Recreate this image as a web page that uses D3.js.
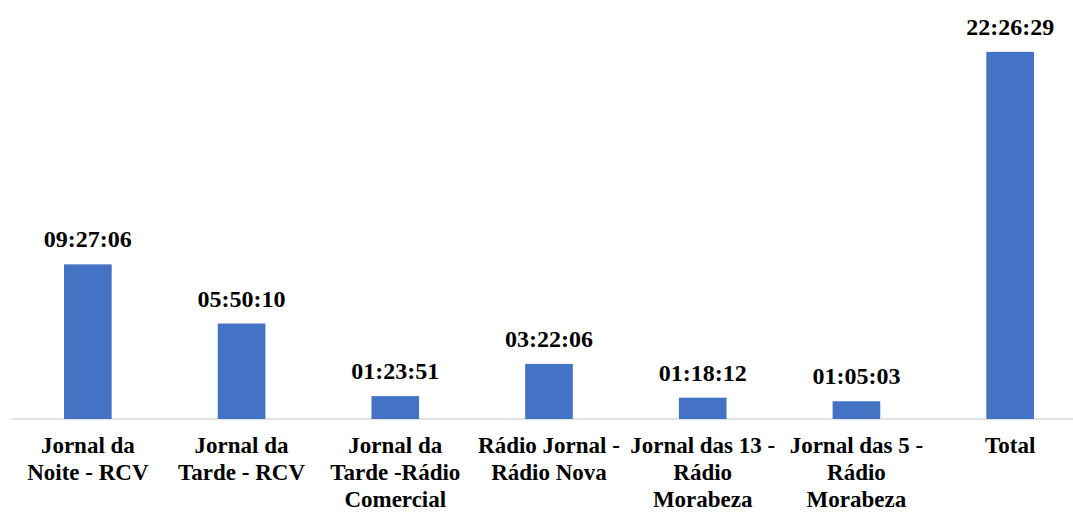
<!DOCTYPE html>
<html><head><meta charset="utf-8">
<script src="https://cdn.jsdelivr.net/npm/d3@7"></script>
<style>body{margin:0;background:#fff}svg{display:block}
text{font-family:"Liberation Serif","Times New Roman",Times,serif;font-weight:bold;fill:#000}
</style>
</head><body>
<script>
const categories = [
  "Jornal da\nNoite - RCV",
  "Jornal da\nTarde - RCV",
  "Jornal da\nTarde -Rádio\nComercial",
  "Rádio Jornal -\nRádio Nova",
  "Jornal das 13 -\nRádio\nMorabeza",
  "Jornal das 5 -\nRádio\nMorabeza",
  "Total"
];
const durations = ["09:27:06","05:50:10","01:23:51","03:22:06","01:18:12","01:05:03","22:26:29"];
const yMaxSeconds = 90000;

const toSec = s => { const [h,m,x] = s.split(":").map(Number); return h*3600+m*60+x; };
const data = categories.map((c,i)=>({cat:c, label:durations[i], v:toSec(durations[i])}));

const W = 1073, H = 512;
const svg = d3.select("body").append("svg").attr("width",W).attr("height",H);
const x = d3.scaleBand().domain(categories).range([11,1087]).paddingInner(0.69).paddingOuter(0.345);
const y = d3.scaleLinear().domain([0,yMaxSeconds]).range([419,10]);

const axis = svg.append("g").attr("transform","translate(0,419)")
  .call(d3.axisBottom(x).tickSize(0).tickFormat(""));
axis.select(".domain").attr("stroke","#d9d9d9").attr("stroke-width",1.3).attr("d","M11,0H1073");

svg.append("g").selectAll("rect").data(data).join("rect")
  .attr("x",d=>x(d.cat)).attr("width",x.bandwidth())
  .attr("y",d=>y(d.v)).attr("height",d=>y(0)-y(d.v))
  .attr("fill","#4472C4");

svg.append("g").selectAll("text").data(data).join("text")
  .attr("x",d=>x(d.cat)+x.bandwidth()/2)
  .attr("y",d=>Math.max(y(d.v)-17, 29))
  .attr("text-anchor","middle")
  .style("font-size","24px")
  .text(d=>d.label);

const lab = svg.append("g").selectAll("text").data(data).join("text")
  .attr("text-anchor","middle")
  .style("font-size","23px");
lab.each(function(d){
  const t = d3.select(this);
  d.cat.split("\n").forEach((line,i)=>{
    t.append("tspan").attr("x",x(d.cat)+x.bandwidth()/2).attr("y",453+i*27).text(line);
  });
});
</script>
</body></html>
